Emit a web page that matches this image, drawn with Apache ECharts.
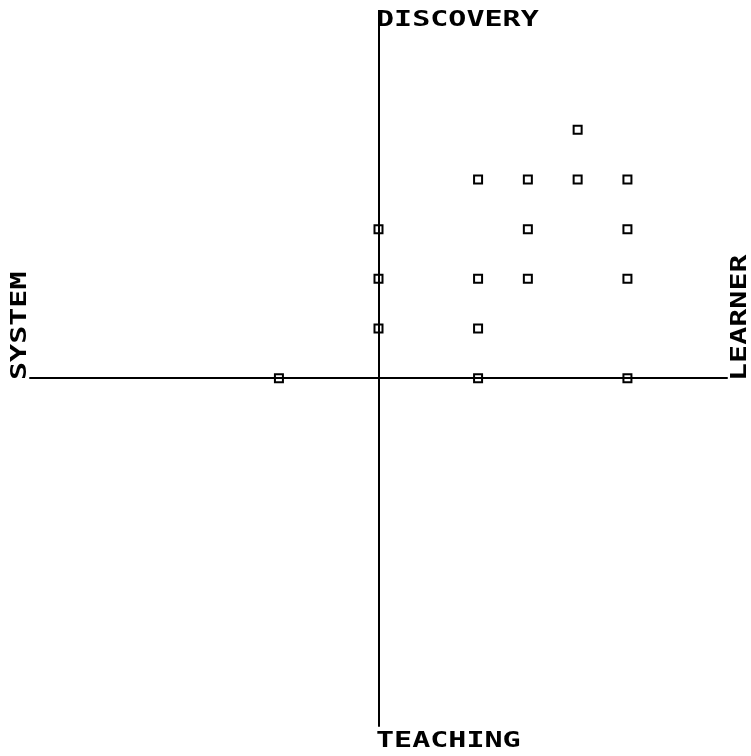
<!DOCTYPE html>
<html>
<head>
<meta charset="utf-8">
<script src="https://cdn.jsdelivr.net/npm/echarts@6/dist/echarts.min.js"></script>
<style>
  html, body { margin: 0; padding: 0; background: #fff; }
  #main { width: 751px; height: 756px; }
</style>
</head>
<body>
<div id="main"></div>
<script>
// point positions on the two axes (learner/system, discovery/teaching)
const pointX = [-2, 0, 0, 0, 2, 2, 2, 2, 3, 3, 3, 4, 4, 5, 5, 5, 5];
const pointY = [0, 1, 2, 3, 0, 1, 2, 4, 2, 3, 4, 4, 5, 0, 2, 3, 4];
const axisLabels = ['DISCOVERY', 'TEACHING', 'SYSTEM', 'LEARNER'];

const chart = echarts.init(document.getElementById('main'));

const points = pointX.map((x, i) => [x, pointY[i]]);

const font = {
  fontFamily: 'DejaVu Sans Mono',
  fontWeight: 'bold',
  fontSize: 21,
  fill: '#000'
};

// wide blocky labels: monospace bold stretched horizontally
function label(text, x, y, rotation) {
  return {
    type: 'text',
    x: x,
    y: y,
    rotation: rotation,
    scaleX: 1.43,
    silent: true,
    style: Object.assign({ text: text, x: 0, y: 0, align: 'left', verticalAlign: 'middle' }, font)
  };
}

const option = {
  backgroundColor: '#fff',
  animation: false,
  grid: { left: 30, right: 24, top: 13, bottom: 30 },
  xAxis: {
    type: 'value',
    min: -7,
    max: 7,
    axisLine: { onZero: true, lineStyle: { color: '#000', width: 2 } },
    axisTick: { show: false },
    axisLabel: { show: false },
    splitLine: { show: false }
  },
  yAxis: {
    type: 'value',
    min: -7,
    max: 7.35,
    axisLine: { onZero: true, lineStyle: { color: '#000', width: 2 } },
    axisTick: { show: false },
    axisLabel: { show: false },
    splitLine: { show: false }
  },
  series: [{
    type: 'scatter',
    symbol: 'rect',
    symbolSize: 8,
    itemStyle: { color: 'rgba(0,0,0,0)', borderColor: '#000', borderWidth: 2, opacity: 1 },
    data: points
  }],
  graphic: [
    label(axisLabels[0], 376, 20.5, 0),
    label(axisLabels[1], 376, 741.5, 0),
    label(axisLabels[2], 21, 380, Math.PI / 2),
    label(axisLabels[3], 741, 381, Math.PI / 2)
  ]
};

chart.setOption(option);
</script>
</body>
</html>
